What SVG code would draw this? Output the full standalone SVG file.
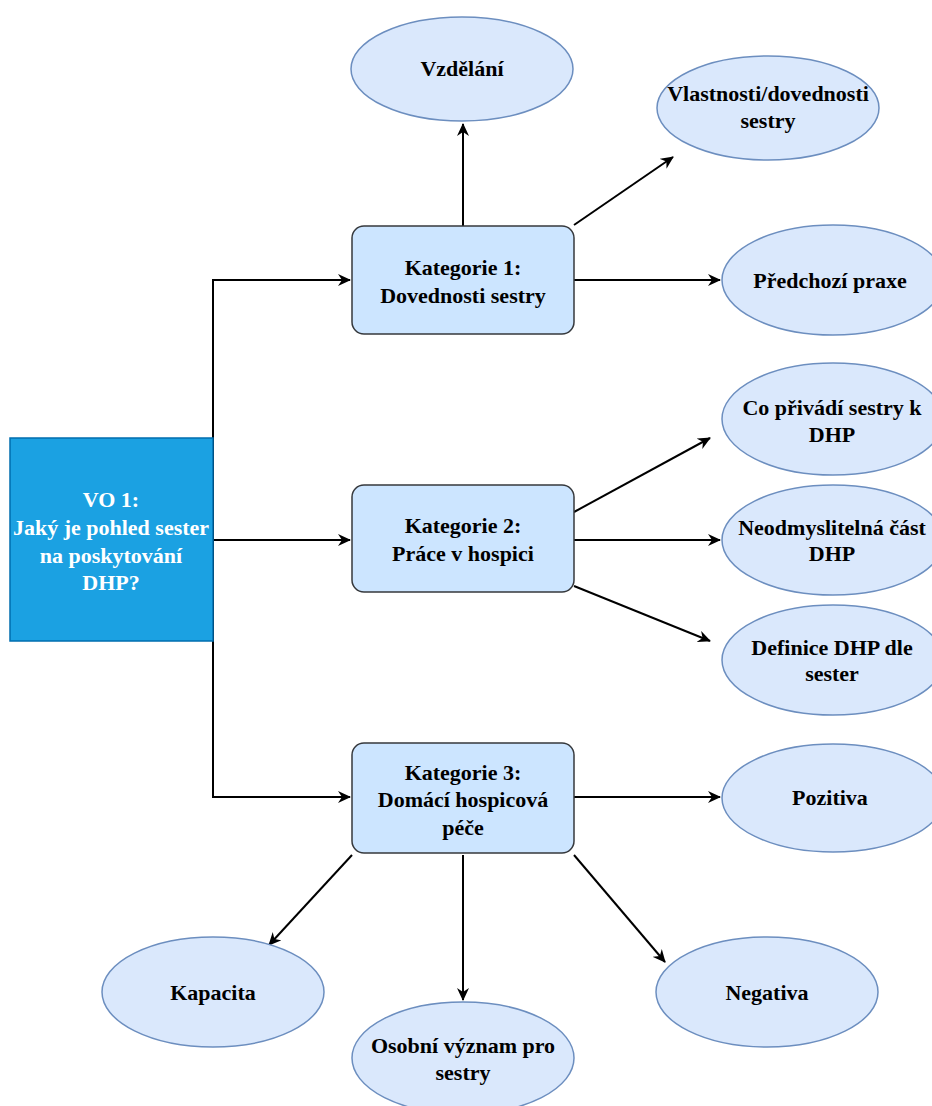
<svg xmlns="http://www.w3.org/2000/svg" width="932" height="1106" viewBox="0 0 932 1106">
<style>
.ell{fill:#dae8fc;stroke:#6c8ebf;stroke-width:1.5}
.cat{fill:#cce5ff;stroke:#36393d;stroke-width:1.5}
.main{fill:#1ba1e2;stroke:#006eaf;stroke-width:1.5}
.t{font-family:"Liberation Serif","Times New Roman",serif;font-weight:bold;font-size:22px;fill:#000;text-anchor:middle;dominant-baseline:central}
.tw{fill:#fff}
.c{fill:none;stroke:#000;stroke-width:2}
</style>
<defs>
<marker id="a" markerWidth="14" markerHeight="12" refX="12" refY="6" orient="auto" markerUnits="userSpaceOnUse">
<path d="M0,0 L13,6 L0,12 L4,6 Z" fill="#000"/>
</marker>
</defs>
<rect width="932" height="1106" fill="#fff"/>
<g id="connectors">
<path class="c" d="M213,540 L213,280 L350,280" marker-end="url(#a)"/>
<path class="c" d="M213,540 L350,540" marker-end="url(#a)"/>
<path class="c" d="M213,540 L213,797 L350,797" marker-end="url(#a)"/>
<path class="c" d="M463,226 L463,124" marker-end="url(#a)"/>
<path class="c" d="M574,225 L673,157" marker-end="url(#a)"/>
<path class="c" d="M574,280 L720,280" marker-end="url(#a)"/>
<path class="c" d="M574,512 L710,438" marker-end="url(#a)"/>
<path class="c" d="M574,540 L720,540" marker-end="url(#a)"/>
<path class="c" d="M574,586 L710,641" marker-end="url(#a)"/>
<path class="c" d="M574,797 L720,797" marker-end="url(#a)"/>
<path class="c" d="M352,855 L269,945" marker-end="url(#a)"/>
<path class="c" d="M463,855 L463,1000" marker-end="url(#a)"/>
<path class="c" d="M574,855 L665,962" marker-end="url(#a)"/>
</g>
<g id="vo1">
<rect class="main" x="10" y="438" width="203" height="203"/>
<text class="t tw" x="111" y="499">VO 1:</text>
<text class="t tw" x="111" y="527">Jaký je pohled sester</text>
<text class="t tw" x="111" y="555">na poskytování</text>
<text class="t tw" x="111" y="582">DHP?</text>
</g>
<g id="kat1">
<rect class="cat" x="352" y="226" width="222" height="108" rx="12"/>
<text class="t" x="463" y="267">Kategorie 1:</text>
<text class="t" x="463" y="295">Dovednosti sestry</text>
</g>
<g id="kat2">
<rect class="cat" x="352" y="485" width="222" height="107" rx="12"/>
<text class="t" x="463" y="525">Kategorie 2:</text>
<text class="t" x="463" y="553">Práce v hospici</text>
</g>
<g id="kat3">
<rect class="cat" x="352" y="743" width="222" height="110" rx="12"/>
<text class="t" x="463" y="772">Kategorie 3:</text>
<text class="t" x="463" y="799">Domácí hospicová</text>
<text class="t" x="463" y="827">péče</text>
</g>
<g id="vzdelani">
<ellipse class="ell" cx="462" cy="69" rx="111" ry="52"/>
<text class="t" x="462" y="68">Vzdělání</text>
</g>
<g id="vlastnosti">
<ellipse class="ell" cx="768" cy="108" rx="111" ry="52"/>
<text class="t" x="768" y="93">Vlastnosti/dovednosti</text>
<text class="t" x="768" y="120">sestry</text>
</g>
<g id="predchozi">
<ellipse class="ell" cx="833" cy="280" rx="111" ry="55"/>
<text class="t" x="830" y="280">Předchozí praxe</text>
</g>
<g id="coprivadi">
<ellipse class="ell" cx="833" cy="419" rx="111" ry="56"/>
<text class="t" x="832" y="407">Co přivádí sestry k</text>
<text class="t" x="832" y="434">DHP</text>
</g>
<g id="neodmyslitelna">
<ellipse class="ell" cx="833" cy="540" rx="111" ry="55"/>
<text class="t" x="832" y="527">Neodmyslitelná část</text>
<text class="t" x="832" y="553">DHP</text>
</g>
<g id="definice">
<ellipse class="ell" cx="833" cy="660" rx="111" ry="55"/>
<text class="t" x="832" y="647">Definice DHP dle</text>
<text class="t" x="832" y="673">sester</text>
</g>
<g id="pozitiva">
<ellipse class="ell" cx="833" cy="798" rx="111" ry="54"/>
<text class="t" x="830" y="797">Pozitiva</text>
</g>
<g id="kapacita">
<ellipse class="ell" cx="213" cy="992" rx="111" ry="55"/>
<text class="t" x="213" y="992">Kapacita</text>
</g>
<g id="osobni">
<ellipse class="ell" cx="463" cy="1058" rx="111" ry="56"/>
<text class="t" x="463" y="1045">Osobní význam pro</text>
<text class="t" x="463" y="1072">sestry</text>
</g>
<g id="negativa">
<ellipse class="ell" cx="767" cy="992" rx="111" ry="55"/>
<text class="t" x="767" y="992">Negativa</text>
</g>
</svg>
